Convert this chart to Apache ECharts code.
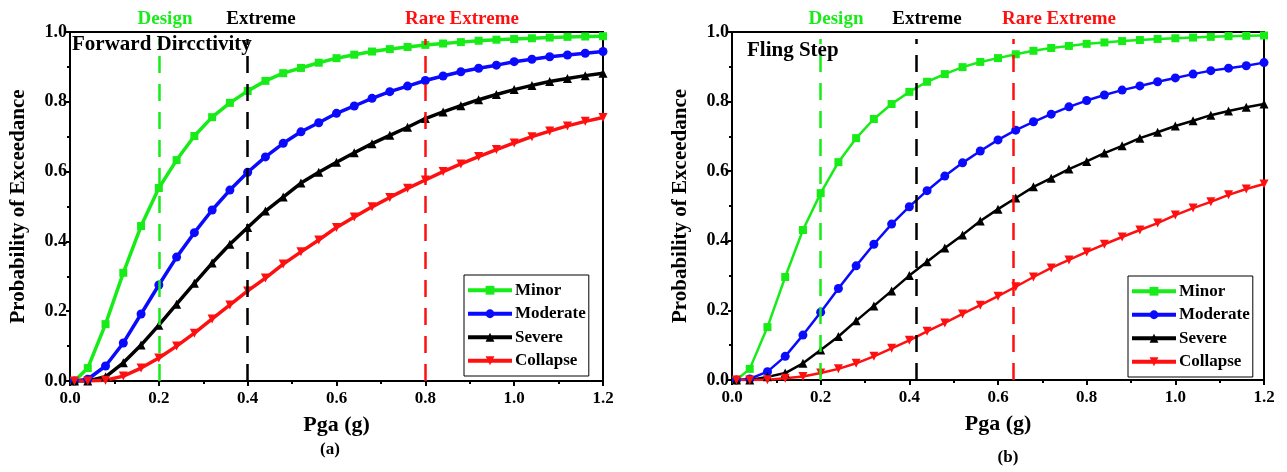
<!DOCTYPE html>
<html>
<head>
<meta charset="utf-8">
<script src="https://cdn.jsdelivr.net/npm/echarts@6/dist/echarts.min.js"></script>
<style>html,body{margin:0;padding:0;background:#fff;}#c{width:1287px;height:472px;}</style>
</head>
<body>
<div id="c"></div>
<script>
// ---- data ----
const pga = [0.01, 0.04, 0.08, 0.12, 0.16, 0.20, 0.24, 0.28, 0.32, 0.36, 0.40, 0.44, 0.48, 0.52, 0.56, 0.60,
             0.64, 0.68, 0.72, 0.76, 0.80, 0.84, 0.88, 0.92, 0.96, 1.00, 1.04, 1.08, 1.12, 1.16, 1.20];

// (a) Forward Directivity
const fdMinor    = [0.0, 0.037, 0.163, 0.31, 0.444, 0.553, 0.633, 0.702, 0.756, 0.797, 0.831, 0.86, 0.882, 0.897, 0.912, 0.925, 0.935, 0.944, 0.951, 0.957, 0.963, 0.967, 0.971, 0.975, 0.978, 0.980, 0.982, 0.984, 0.986, 0.987, 0.988];
const fdModerate = [0.0, 0.005, 0.043, 0.109, 0.192, 0.275, 0.355, 0.425, 0.49, 0.547, 0.598, 0.642, 0.681, 0.714, 0.740, 0.767, 0.788, 0.810, 0.829, 0.845, 0.861, 0.874, 0.886, 0.896, 0.905, 0.915, 0.922, 0.929, 0.934, 0.939, 0.944];
const fdSevere   = [0.0, 0.0, 0.012, 0.052, 0.103, 0.16, 0.22, 0.28, 0.338, 0.392, 0.44, 0.487, 0.527, 0.567, 0.598, 0.627, 0.654, 0.68, 0.704, 0.727, 0.752, 0.771, 0.789, 0.806, 0.821, 0.835, 0.847, 0.858, 0.867, 0.875, 0.882];
const fdCollapse = [0.0, 0.0, 0.002, 0.014, 0.037, 0.066, 0.1, 0.137, 0.178, 0.218, 0.258, 0.295, 0.335, 0.37, 0.404, 0.44, 0.47, 0.499, 0.526, 0.552, 0.576, 0.6, 0.622, 0.643, 0.663, 0.682, 0.7, 0.716, 0.731, 0.744, 0.755];

// (b) Fling Step
const fsMinor    = [0.0, 0.032, 0.152, 0.296, 0.431, 0.537, 0.626, 0.695, 0.75, 0.793, 0.828, 0.857, 0.879, 0.899, 0.914, 0.925, 0.936, 0.946, 0.954, 0.96, 0.966, 0.97, 0.974, 0.977, 0.98, 0.982, 0.984, 0.986, 0.988, 0.989, 0.99];
const fsModerate = [0.0, 0.003, 0.024, 0.068, 0.129, 0.195, 0.263, 0.328, 0.39, 0.448, 0.498, 0.544, 0.586, 0.624, 0.658, 0.69, 0.718, 0.742, 0.764, 0.785, 0.803, 0.819, 0.833, 0.845, 0.857, 0.868, 0.879, 0.889, 0.896, 0.903, 0.912];
const fsSevere   = [0.0, 0.0, 0.009, 0.02, 0.048, 0.086, 0.125, 0.17, 0.213, 0.256, 0.3, 0.34, 0.379, 0.417, 0.457, 0.491, 0.523, 0.555, 0.58, 0.606, 0.628, 0.652, 0.673, 0.695, 0.712, 0.73, 0.745, 0.761, 0.773, 0.784, 0.793];
const fsCollapse = [0.0, 0.0, 0.001, 0.005, 0.01, 0.02, 0.032, 0.048, 0.068, 0.091, 0.114, 0.14, 0.164, 0.19, 0.215, 0.241, 0.268, 0.296, 0.322, 0.345, 0.368, 0.39, 0.411, 0.431, 0.451, 0.474, 0.494, 0.512, 0.532, 0.549, 0.563];

// hazard levels (Pga, g)
const designPga  = [0.2, 0.2];
const extremePga = [0.4, 0.415];
const rarePga    = [0.8, 0.634];
const hazardTop  = 0.98;

const seriesNames = ['Minor', 'Moderate', 'Severe', 'Collapse'];
const panelTitles = ['Forward Dircctivity', 'Fling Step'];
const panelTags   = ['(a)', '(b)'];
const xTicks = [0, 1.2, 0.2];
const yTicks = [0, 1, 0.2];

// ---- style ----
const FONT = '"Liberation Serif","Times New Roman",serif';
const GREEN = '#18ec18', BLUE = '#0a0aff', BLACK = '#000000', RED = '#ff1010';
const colors = [GREEN, BLUE, BLACK, RED];
const symbols = ['rect', 'circle', 'triangle', 'triangle'];
const symRot = [0, 0, 0, 180];
const symSize = [8, 9, 9, 9];

function pair(ys) { return pga.map((x, i) => [x, ys[i]]); }

function makeAxes(idx) {
  const x = {
    type: 'value', gridIndex: idx, min: xTicks[0], max: xTicks[1], interval: xTicks[2],
    name: 'Pga (g)', nameLocation: 'middle', nameGap: 33,
    nameTextStyle: { fontFamily: FONT, fontWeight: 'bold', fontSize: 22, color: '#000' },
    axisLine: { show: true, onZero: false, lineStyle: { color: '#000', width: 2 } },
    axisTick: { show: true, inside: false, length: 5, lineStyle: { color: '#000', width: 2 } },
    minorTick: { show: true, splitNumber: 2, length: 3, lineStyle: { color: '#000', width: 2 } },
    axisLabel: { fontFamily: FONT, fontWeight: 'bold', fontSize: 17, color: '#000', margin: 9,
                 formatter: v => v.toFixed(1) },
    splitLine: { show: false }
  };
  const y = {
    type: 'value', gridIndex: idx, min: yTicks[0], max: yTicks[1], interval: yTicks[2],
    name: 'Probability of Exceedance', nameLocation: 'middle', nameGap: 41,
    nameTextStyle: { fontFamily: FONT, fontWeight: 'bold', fontSize: 21, color: '#000' },
    axisLine: { show: true, lineStyle: { color: '#000', width: 2 } },
    axisTick: { show: true, inside: false, length: 4, lineStyle: { color: '#000', width: 2 } },
    minorTick: { show: true, splitNumber: 2, length: 3, lineStyle: { color: '#000', width: 2 } },
    axisLabel: { fontFamily: FONT, fontWeight: 'bold', fontSize: 18, color: '#000', margin: 3,
                 formatter: v => v.toFixed(1) },
    splitLine: { show: false }
  };
  return [x, y];
}

const panels = [
  [fdMinor, fdModerate, fdSevere, fdCollapse],
  [fsMinor, fsModerate, fsSevere, fsCollapse]
];
const lineW = [3.5, 2.5];

const xAxes = [], yAxes = [], series = [];
panels.forEach((sets, p) => {
  const [xa, ya] = makeAxes(p);
  xAxes.push(xa); yAxes.push(ya);
  sets.forEach((ys, k) => {
    series.push({
      name: seriesNames[k], type: 'line', xAxisIndex: p, yAxisIndex: p,
      data: pair(ys), symbol: symbols[k], symbolRotate: symRot[k], symbolSize: symSize[k],
      showSymbol: true, smooth: false, z: 3,
      lineStyle: { color: colors[k], width: lineW[p] },
      itemStyle: { color: colors[k] },
      emphasis: { disabled: true }, animation: false
    });
  });
  const hz = [[designPga[p], GREEN], [extremePga[p], BLACK], [rarePga[p], RED]];
  series.push({
    type: 'line', xAxisIndex: p, yAxisIndex: p, data: [], silent: true, animation: false,
    markLine: {
      symbol: 'none', silent: true, animation: false, label: { show: false },
      data: hz.map(([xv, c]) => [
        { coord: [xv, 0], lineStyle: { color: c, width: 2.5, type: [17, 11] } },
        { coord: [xv, hazardTop] }
      ])
    },
    z: 2
  });
});

const txt = (t, x, y, color, size, align) => ({
  type: 'text', x: x, y: y, z: 50,
  style: { text: t, fill: color, font: 'bold ' + size + 'px ' + FONT,
           textAlign: align || 'center', textVerticalAlign: 'middle' }
});

const legendBase = {
  data: seriesNames, orient: 'vertical', itemWidth: 44, itemHeight: 11, itemGap: 5,
  padding: [6, 3, 6, 2], borderColor: '#000', borderWidth: 1, backgroundColor: '#fff',
  lineStyle: { width: 4 },
  textStyle: { fontFamily: FONT, fontWeight: 'bold', fontSize: 17, color: '#000', padding: [0, 0, 0, -2],
               lineHeight: 18.5 },
  selectedMode: false
};

const option = {
  backgroundColor: '#fff',
  animation: false,
  grid: [
    { left: 70, right: 684, top: 32, bottom: 91, show: true, borderColor: '#000', borderWidth: 2, backgroundColor: 'transparent' },
    { left: 732, right: 23, top: 32, bottom: 92, show: true, borderColor: '#000', borderWidth: 2, backgroundColor: 'transparent' }
  ],
  xAxis: xAxes,
  yAxis: yAxes,
  legend: [
    Object.assign({}, legendBase, { left: 464, top: 275 }),
    Object.assign({}, legendBase, { left: 1128, top: 276 })
  ],
  graphic: [
    txt('Design', 165, 19, GREEN, 19),
    txt('Extreme', 261, 19, BLACK, 19),
    txt('Rare Extreme', 462, 19, RED, 19),
    txt('Design', 836, 19, GREEN, 19),
    txt('Extreme', 927, 19, BLACK, 19),
    txt('Rare Extreme', 1059, 19, RED, 19),
    txt(panelTitles[0], 72, 45, BLACK, 21, 'left'),
    txt(panelTitles[1], 747, 51, BLACK, 21, 'left'),
    txt(panelTags[0], 330, 450, BLACK, 17),
    txt(panelTags[1], 1008, 458, BLACK, 17)
  ],
  series: series
};

const chart = echarts.init(document.getElementById('c'), null, { renderer: 'canvas' });
chart.setOption(option);
</script>
</body>
</html>
